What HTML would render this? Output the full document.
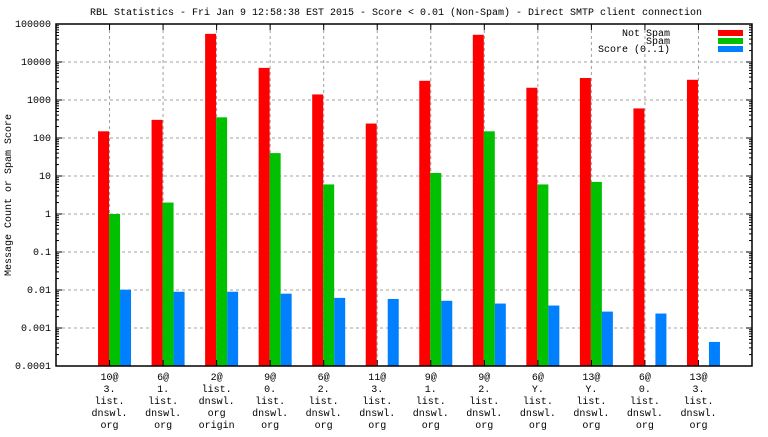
<!DOCTYPE html>
<html><head><meta charset="utf-8"><style>
body{margin:0;background:#fff}
svg text{font-family:"Liberation Mono","DejaVu Sans Mono",monospace;font-size:10px;fill:#000}
</style></head><body>
<svg id="c" width="768" height="432" xmlns="http://www.w3.org/2000/svg">
<text x="396" y="15" text-anchor="middle">RBL Statistics - Fri Jan  9 12:58:38 EST 2015 - Score &lt; 0.01 (Non-Spam) - Direct SMTP client connection</text>
<text transform="translate(11,195) rotate(-90)" text-anchor="middle">Message Count or Spam Score</text>
<g id="grid"></g><g id="bars"></g><g id="axes"></g>
<g>
<text x="670" y="36" text-anchor="end">Not Spam</text>
<rect x="718" y="30" width="25" height="6" fill="#ff0000"/>
<text x="670" y="44" text-anchor="end">Spam</text>
<rect x="718" y="38" width="25" height="6" fill="#00c000"/>
<text x="670" y="52" text-anchor="end">Score (0..1)</text>
<rect x="718" y="46" width="25" height="6" fill="#0080ff"/>
</g>
</svg>
<script>
const categories=[["10@","3.","list.","dnswl.","org","origin"],["6@","1.","list.","dnswl.","org","origin"],["2@","list.","dnswl.","org","origin"],["9@","0.","list.","dnswl.","org","origin"],["6@","2.","list.","dnswl.","org","origin"],["11@","3.","list.","dnswl.","org","origin"],["9@","1.","list.","dnswl.","org","origin"],["9@","2.","list.","dnswl.","org","origin"],["6@","Y.","list.","dnswl.","org","origin"],["13@","Y.","list.","dnswl.","org","origin"],["6@","0.","list.","dnswl.","org","origin"],["13@","3.","list.","dnswl.","org","origin"]];
const notSpam=[150,300,55000,7000,1400,240,3200,52000,2100,3800,600,3400];
const spam=[1,2,350,40,6,null,12,150,6,7,null,null];
const score=[0.0102,0.009,0.009,0.008,0.0062,0.0058,0.0052,0.0044,0.0039,0.0027,0.0024,0.00043];
const yTicks=["0.0001","0.001","0.01","0.1","1","10","100","1000","10000","100000"];
const L=56,R=752,T=24,B=366,NS="http://www.w3.org/2000/svg";
const y=v=>B-(B-T)*(Math.log10(v)+4)/9;
const x=i=>L+(R-L)*(i+1)/(categories.length+1);
function mk(t,a,p){const e=document.createElementNS(NS,t);for(const k in a)e.setAttribute(k,a[k]);p.appendChild(e);return e;}
const grid=document.getElementById('grid'),bars=document.getElementById('bars'),axes=document.getElementById('axes');
yTicks.forEach((t,k)=>{const v=parseFloat(t),yy=y(v);
 if(k>0&&k<yTicks.length-1){const g=mk('line',{x1:L,x2:R,y1:yy,y2:yy,stroke:'#a0a0a0','stroke-dasharray':'3,3'},grid);
 
 }
 const tx=mk('text',{x:L-5,y:yy+3,'text-anchor':'end'},axes);tx.textContent=t;
 
 
 mk('line',{x1:L,x2:L+6,y1:yy,y2:yy,stroke:'#000'},axes);mk('line',{x1:R-6,x2:R,y1:yy,y2:yy,stroke:'#000'},axes);
 if(k<yTicks.length-1)for(let m=2;m<10;m++){const ym=y(v*m);mk('line',{x1:L,x2:L+3,y1:ym,y2:ym,stroke:'#000'},axes);mk('line',{x1:R-3,x2:R,y1:ym,y2:ym,stroke:'#000'},axes);}
});
categories.forEach((c,i)=>{const cx=x(i);
 const g=mk('line',{x1:cx,x2:cx,y1:T,y2:B,stroke:'#a0a0a0','stroke-dasharray':'3,3'},grid);
 
 
 mk('line',{x1:cx,x2:cx,y1:B,y2:B-6,stroke:'#000'},axes);mk('line',{x1:cx,x2:cx,y1:T,y2:T+6,stroke:'#000'},axes);
 [[notSpam,'#ff0000',-11.5,'bar-not-spam'],[spam,'#00c000',-0.5,'bar-spam'],[score,'#0080ff',10.5,'bar-score']].forEach(([arr,col,off,nm])=>{
  const v=arr[i];if(v==null)return;const top=y(v);
  const r=mk('rect',{x:cx+off,y:top,width:11,height:B-top,fill:col},bars);
  
  
 });
 const t=mk('text',{'text-anchor':'middle'},axes);
 
 
 c.forEach((ln,j)=>{const s=mk('tspan',{x:cx,y:B+14+j*12},t);s.textContent=ln;});
});
const fr=mk('rect',{x:L,y:T,width:R-L,height:B-T,fill:'none',stroke:'#000','stroke-width':1.5},axes);


</script>
</body></html>
